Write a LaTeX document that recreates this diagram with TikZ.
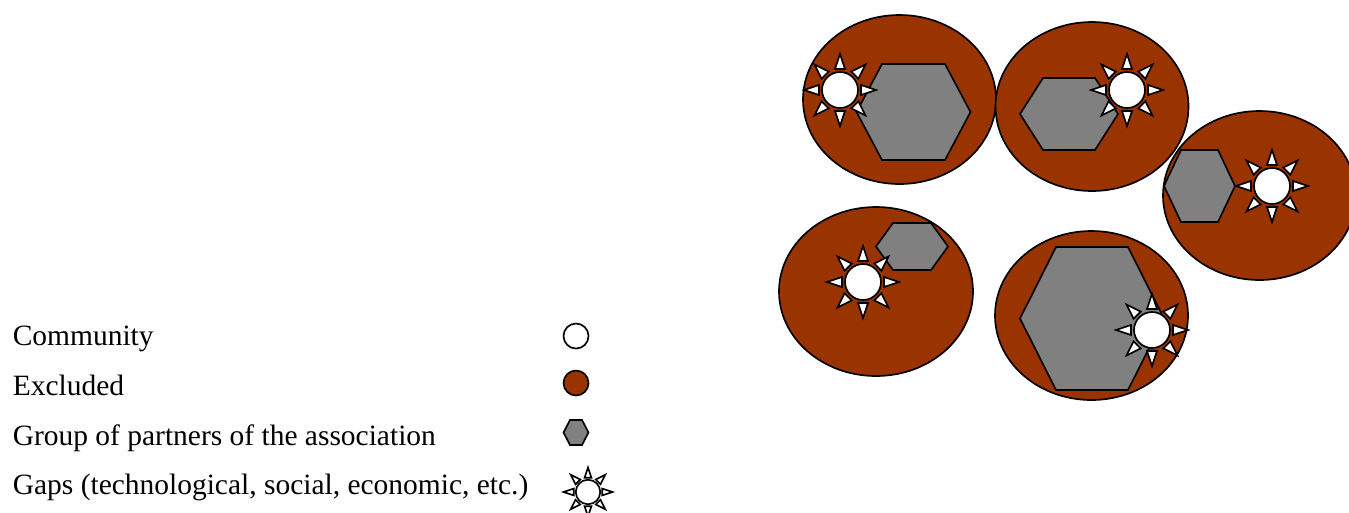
\documentclass[tikz,border=0pt]{standalone}
\usepackage{fontspec}
\setmainfont{Liberation Serif}
\definecolor{exclbrown}{RGB}{153,51,0}
\definecolor{partgray}{RGB}{128,128,128}
\newcommand\hexpart[5]{% cx, cy, half width, half height, top half
  \draw[partner] ({#1-#3},#2) -- ({#1-#5},{#2-#4}) -- ({#1+#5},{#2-#4}) -- ({#1+#3},#2) -- ({#1+#5},{#2+#4}) -- ({#1-#5},{#2+#4}) -- cycle;}
\begin{document}
\begin{tikzpicture}[x=0.75pt,y=-0.75pt,line width=1.25pt,
  excluded/.style={draw=black,fill=exclbrown},
  partner/.style={draw=black,fill=partgray,line join=miter},
  community/.style={draw=black,fill=white},
  legendtext/.style={anchor=base west,inner sep=0pt,font=\fontsize{22.1pt}{24pt}\selectfont},
  sun/.pic={
    \foreach \a in {0,45,...,315}{
      \draw[community,rotate=\a,line join=miter] (21,5) -- (36,0) -- (21,-5) -- cycle;}
    \draw[community] (0,0) circle [radius=18];
  }]
\useasboundingbox (0,0) rectangle (1349,512);
\clip (0,0) rectangle (1349,512);
% group 1
\draw[excluded] (899.5,99.5) ellipse [x radius=96.5,y radius=84.5];
\hexpart{913.5}{112}{57}{48}{31.5}
\pic at (840,90) {sun};
% group 2
\draw[excluded] (1092,106.5) ellipse [x radius=96.5,y radius=84.5];
\hexpart{1069}{114}{49}{36}{26}
\pic at (1127,90) {sun};
% group 3
\draw[excluded] (1259.5,195.5) ellipse [x radius=96.5,y radius=84.5];
\hexpart{1199.5}{186}{35.5}{36}{18.5}
\pic at (1272,186) {sun};
% group 4
\draw[excluded] (876,291.5) ellipse [x radius=97,y radius=84.5];
\hexpart{912}{246.5}{36}{23.5}{19}
\pic at (863,282) {sun};
% group 5
\draw[excluded] (1091.5,315.5) ellipse [x radius=96.5,y radius=84.5];
\hexpart{1092}{318.5}{72}{71.5}{36}
\pic at (1152,330) {sun};
% legend
\node[legendtext] (tcomm) at (12,345) {Community};
\node[legendtext] (texcl) at (12,395) {Excluded};
\node[legendtext] (tpart) at (12,445) {Group of partners of the association};
\node[legendtext] (tgaps) at (12,494) {Gaps (technological, social, economic, etc.)};
\node[community,circle,minimum size=18.75pt,inner sep=0pt] (lcomm) at (576,336) {};
\node[excluded,circle,minimum size=18.75pt,inner sep=0pt] (lexcl) at (576,383) {};
\hexpart{576}{432.5}{12.5}{12.5}{6}
\pic[scale=0.68] (lgaps) at (588,492) {sun};
\end{tikzpicture}
\end{document}
